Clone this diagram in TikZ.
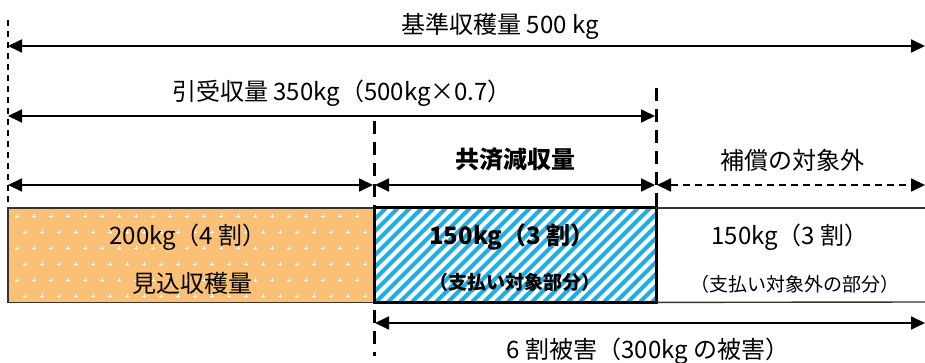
\documentclass[tikz,border=0pt]{standalone}
\usepackage{fontspec}
\setmainfont{Noto Sans CJK JP}
\usetikzlibrary{arrows.meta}

\definecolor{yieldorange}{RGB}{250,193,118}
\definecolor{hatchcyan}{RGB}{28,174,228}
\definecolor{boxedge}{RGB}{60,50,40}

\tikzset{
	dimarrow/.style={line width=1.8pt, {Triangle[length=14pt,width=13pt]}-{Triangle[length=14pt,width=13pt]}},
	thinguide/.style={line width=1.4pt, dash pattern=on 6pt off 5pt},
	thickguide/.style={line width=3pt, dash pattern=on 13pt off 8pt},
	lbl/.style={inner sep=0pt, font=\fontsize{24pt}{28pt}\selectfont},
	boldlbl/.style={inner sep=0pt, font=\fontsize{24pt}{28pt}\selectfont\bfseries},
	smalllbl/.style={inner sep=0pt, font=\fontsize{19pt}{22pt}\selectfont},
	speck/.style={white!90!yieldorange, line width=0.9pt},
}

\begin{document}
\begin{tikzpicture}[x=1pt, y=-1pt]
	\useasboundingbox (0,0) rectangle (925,363);

	% guide lines
	\coordinate (guideL top) at (8,20);
	\coordinate (guideL bot) at (8,208);
	\coordinate (guideM top) at (374,121);
	\coordinate (guideM bot) at (374,356);
	\coordinate (guideR top) at (656,88);
	\coordinate (guideR bot) at (656,208);
	\draw[thinguide] (guideL top) -- (guideL bot);
	\draw[thickguide] (guideM top) -- (guideM bot);
	\draw[thickguide] (guideR top) -- (guideR bot);

	% row 1 : 500 kg
	\coordinate (base L) at (8,46);
	\coordinate (base R) at (925,46);
	\draw[dimarrow] (base L) -- (base R);
	\node[lbl] (base txt) at (500,26) {基準収穫量 500 kg};

	% row 2 : 350 kg
	\coordinate (insured L) at (8,116);
	\coordinate (insured R) at (655,116);
	\draw[dimarrow] (insured L) -- (insured R);
	\node[lbl] (insured txt) at (342,93) {引受収量 350kg（500kg×0.7）};

	% row 3
	\coordinate (est L) at (8,185);
	\coordinate (est R) at (373,185);
	\coordinate (loss L) at (375,185);
	\coordinate (loss R) at (655,185);
	\coordinate (excl L) at (657,185);
	\coordinate (excl R) at (925,185);
	\draw[dimarrow] (est L) -- (est R);
	\draw[dimarrow] (loss L) -- (loss R);
	\draw[dimarrow, dash pattern=on 7pt off 5pt] (excl L) -- (excl R);
	\node[boldlbl] (loss txt) at (515,160) {共済減収量};
	\node[lbl] (excl txt) at (792,160) {補償の対象外};

	% boxes
	\node[fill=yieldorange, minimum width=366pt, minimum height=94pt, inner sep=0pt, anchor=north west] (est box) at (8,208) {};
	\foreach \i in {0,...,20}
		\foreach \j in {0,...,5}
			\draw[speck] ({15+\i*17+mod(\j,2)*8},{216+\j*16}) -- ({19+\i*17+mod(\j,2)*8},{216+\j*16})
				({17+\i*17+mod(\j,2)*8},{214+\j*16}) -- ({17+\i*17+mod(\j,2)*8},{218+\j*16});
	\draw[boxedge, line width=1.4pt] (est box.north west) rectangle (est box.south east);

	\node[minimum width=282pt, minimum height=94pt, inner sep=0pt, anchor=north west] (pay box) at (374,208) {};
	\begin{scope}
		\clip (pay box.north west) rectangle (pay box.south east);
		\foreach \s in {0,...,32}
			\draw[hatchcyan, line width=4pt] (280+\s*12,302) -- (374+\s*12,208);
	\end{scope}
	\draw[line width=3pt] (pay box.north west) rectangle (pay box.south east);

	\coordinate (rest top) at (925,208);
	\coordinate (rest bot) at (925,302);
	\draw[boxedge, line width=1.4pt] (pay box.north east) -- (rest top);
	\draw[boxedge, line width=1.4pt] (pay box.south east) -- (rest bot);

	% box labels
	\node[lbl] (est amt) at (188,237) {200kg（4 割）};
	\node[lbl] (est name) at (192,283) {見込収穫量};
	\node[boldlbl] (pay amt) at (512,237) {150kg（3 割）};
	\node[smalllbl, font=\fontsize{19pt}{22pt}\selectfont\bfseries] (pay name) at (515,282) {（支払い対象部分）};
	\node[lbl] (rest amt) at (790,237) {150kg（3 割）};
	\node[smalllbl] (rest name) at (795,284) {（支払い対象外の部分）};

	% bottom : 300 kg
	\coordinate (dmg L) at (375,323);
	\coordinate (dmg R) at (925,323);
	\draw[dimarrow] (dmg L) -- (dmg R);
	\node[lbl] (dmg txt) at (648,351) {6 割被害（300kg の被害）};

\end{tikzpicture}
\end{document}
